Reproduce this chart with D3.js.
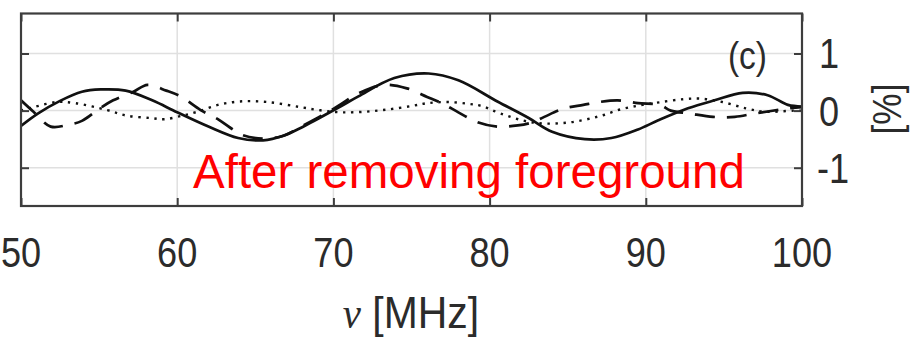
<!DOCTYPE html>
<html>
<head>
<meta charset="utf-8">
<script src="https://cdn.jsdelivr.net/npm/d3@7"></script>
<style>
  html, body { margin: 0; padding: 0; background: #fff; }
  svg { display: block; }
  text { font-family: "Liberation Sans", Arial, Helvetica, sans-serif; }
</style>
</head>
<body>
<svg id="chart" width="924" height="347"></svg>
<script>
// Residual spectra (%) after foreground removal, three realisations
const solidFreq = [50.0, 51.1, 52.5, 53.9, 55.1, 56.7, 58.4, 60.0, 62.0, 63.9, 65.5, 66.8, 68.0, 70.3, 71.6, 73.9, 76.1, 78.0, 80.5, 82.5, 84.0, 86.1, 87.8, 89.5, 90.8, 92.7, 94.4, 96.2, 97.8, 99.1, 100.0];
const solidVal  = [-0.27, -0.05, 0.17, 0.33, 0.37, 0.35, 0.18, -0.03, -0.28, -0.48, -0.52, -0.44, -0.29, 0.05, 0.25, 0.57, 0.65, 0.53, 0.16, -0.13, -0.37, -0.50, -0.48, -0.33, -0.17, 0.04, 0.18, 0.31, 0.27, 0.10, 0.07];

const dashedFreq = [50.0, 50.8, 51.9, 53.0, 53.9, 55.1, 55.9, 57.2, 58.1, 59.3, 60.2, 61.5, 62.6, 63.4, 64.2, 65.5, 66.8, 68.0, 70.0, 71.6, 73.2, 74.7, 76.0, 77.0, 78.0, 79.2, 80.5, 81.8, 82.8, 83.5, 84.8, 86.0, 87.0, 88.2, 89.5, 90.9, 91.6, 92.8, 94.3, 95.7, 97.0, 99.2, 100.0];
const dashedVal  = [0.18, -0.02, -0.28, -0.25, -0.18, 0.05, 0.18, 0.33, 0.45, 0.35, 0.25, 0.01, -0.15, -0.30, -0.43, -0.49, -0.44, -0.27, 0.03, 0.30, 0.45, 0.39, 0.24, 0.12, -0.03, -0.20, -0.28, -0.26, -0.20, -0.11, 0.04, 0.10, 0.15, 0.18, 0.13, 0.10, 0.00, -0.05, -0.11, -0.11, -0.05, 0.04, 0.06];

const dottedFreq = [50.0, 50.8, 52.3, 53.5, 55.5, 56.8, 58.3, 59.2, 60.3, 61.3, 62.6, 64.0, 65.8, 67.9, 69.3, 70.5, 72.0, 73.5, 75.0, 76.0, 77.3, 78.6, 79.5, 80.7, 82.8, 85.0, 87.0, 88.5, 89.8, 91.0, 92.4, 93.5, 94.9, 96.4, 97.6, 99.5, 100.0];
const dottedVal  = [0.00, 0.06, 0.15, 0.13, 0.01, -0.09, -0.13, -0.15, -0.09, -0.02, 0.10, 0.16, 0.15, 0.06, 0.00, -0.03, -0.02, 0.02, 0.08, 0.13, 0.15, 0.12, 0.08, -0.05, -0.21, -0.21, -0.10, 0.03, 0.10, 0.15, 0.20, 0.21, 0.15, 0.04, -0.02, 0.00, 0.00];

const xTicks = [50, 60, 70, 80, 90, 100];
const yTicks = [-1, 0, 1];
const panelLabel = "(c)";
const note = "After removing foreground";

const svg = d3.select("#chart");
const boxLeft = 21, boxRight = 802, boxTop = 13.5, boxBottom = 206;

const x = d3.scaleLinear().domain([50, 100]).range([boxLeft, boxRight]);
const y = d3.scaleLinear().domain([-1.67, 1.70]).range([boxBottom, boxTop]);

const frameColor = "#3d3d3d";
const textColor = "#2b2b2b";

// grid
const grid = svg.append("g");
grid.selectAll("line.gx").data(xTicks.filter(t => t > 50 && t < 100)).join("line")
  .attr("class", "gx")
  .attr("x1", d => x(d)).attr("x2", d => x(d))
  .attr("y1", boxTop).attr("y2", boxBottom)
  .attr("stroke", "#e0e0e0").attr("stroke-width", 1.5);
grid.selectAll("line.gy").data(yTicks).join("line")
  .attr("class", "gy")
  .attr("x1", boxLeft).attr("x2", boxRight)
  .attr("y1", d => y(d)).attr("y2", d => y(d))
  .attr("stroke", "#e0e0e0").attr("stroke-width", 1.5);

// clip to the axes box
svg.append("clipPath").attr("id", "box").append("rect")
  .attr("x", boxLeft).attr("y", boxTop).attr("width", boxRight - boxLeft).attr("height", boxBottom - boxTop);

const line = d3.line().x(d => x(d[0])).y(d => y(d[1])).curve(d3.curveCatmullRom.alpha(0.5));
const plot = svg.append("g").attr("clip-path", "url(#box)");

const series = [
  { f: dottedFreq, v: dottedVal, dash: "2.4,5.6", w: 2.4 },
  { f: dashedFreq, v: dashedVal, dash: "20,12", w: 2.7 },
  { f: solidFreq,  v: solidVal,  dash: null,    w: 2.7 }
];
series.forEach(s => {
  plot.append("path")
    .datum(d3.zip(s.f, s.v))
    .attr("d", line)
    .attr("fill", "none")
    .attr("stroke", "#111")
    .attr("stroke-width", s.w)
    .attr("stroke-dasharray", s.dash);
});

// axes frame with inward ticks
const axesG = svg.append("g");
const axB = d3.axisBottom(x).tickValues(xTicks).tickSizeInner(-8).tickSizeOuter(0).tickFormat("");
const axT = d3.axisTop(x).tickValues(xTicks).tickSizeInner(-8).tickSizeOuter(0).tickFormat("");
const axL = d3.axisLeft(y).tickValues(yTicks).tickSizeInner(-8).tickSizeOuter(0).tickFormat("");
const axR = d3.axisRight(y).tickValues(yTicks).tickSizeInner(-8).tickSizeOuter(0).tickFormat("");
axesG.append("g").attr("transform", `translate(0,${boxBottom})`).call(axB);
axesG.append("g").attr("transform", `translate(0,${boxTop})`).call(axT);
axesG.append("g").attr("transform", `translate(${boxLeft},0)`).call(axL);
axesG.append("g").attr("transform", `translate(${boxRight},0)`).call(axR);
axesG.selectAll("path.domain").remove();
axesG.selectAll(".tick line").attr("stroke", frameColor).attr("stroke-width", 2);
axesG.append("rect")
  .attr("x", boxLeft).attr("y", boxTop).attr("width", boxRight - boxLeft).attr("height", boxBottom - boxTop)
  .attr("fill", "none").attr("stroke", frameColor).attr("stroke-width", 2.2);

// tick labels (slightly condensed face)
const sx = 0.86;
svg.append("g").selectAll("text").data(xTicks).join("text")
  .attr("transform", d => `translate(${x(d)},267) scale(${sx},1)`)
  .attr("text-anchor", "middle")
  .attr("font-size", 42)
  .attr("fill", textColor)
  .text(d => d);

svg.append("g").selectAll("text").data(yTicks).join("text")
  .attr("transform", d => `translate(${d < 0 ? 817 : 819},${y(d) + 15}) scale(${sx},1)`)
  .attr("text-anchor", "start")
  .attr("font-size", 42)
  .attr("fill", textColor)
  .text(d => d < 0 ? "-" + Math.abs(d) : d);

// axis titles
const xt = svg.append("text")
  .attr("transform", `translate(411,328) scale(0.93,1)`)
  .attr("text-anchor", "middle")
  .attr("font-size", 44)
  .attr("fill", textColor);
xt.append("tspan").attr("font-family", "'Liberation Serif', 'Times New Roman', serif").attr("font-style", "italic").text("ν");
xt.append("tspan").text(" [MHz]");

svg.append("text")
  .attr("transform", `translate(901,109) rotate(-90) scale(${sx},1)`)
  .attr("text-anchor", "middle")
  .attr("font-size", 41)
  .attr("fill", textColor)
  .text("[%]");

svg.append("text")
  .attr("transform", `translate(767,69) scale(${sx},1)`)
  .attr("text-anchor", "end")
  .attr("font-size", 39)
  .attr("fill", textColor)
  .text(panelLabel);

svg.append("text")
  .attr("x", 193).attr("y", 188)
  .attr("font-size", 47.5)
  .attr("fill", "#ff0000")
  .text(note);
</script>
</body>
</html>
